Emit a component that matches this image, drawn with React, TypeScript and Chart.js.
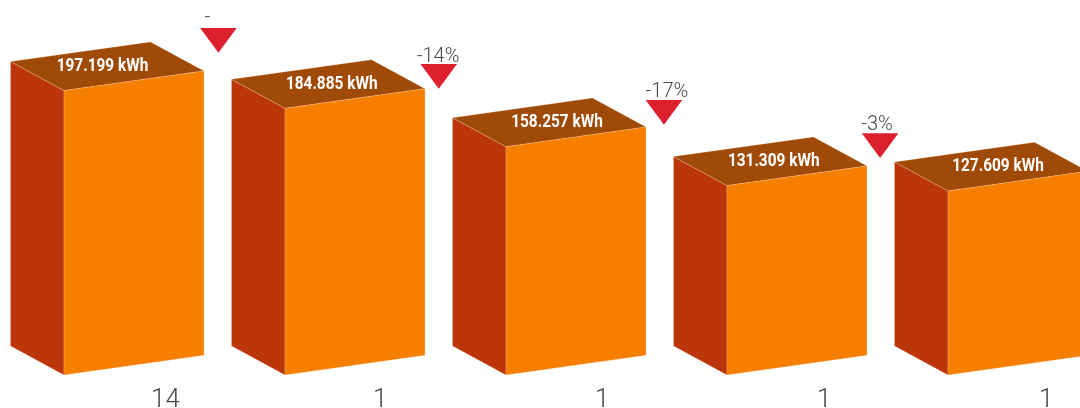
import React, { useEffect, useRef } from "react";
import { Chart, registerables } from "chart.js";

Chart.register(...registerables);

// --- data ---
const categories = ["14", "1", "1", "1", "1"];
const energyKwh = [197199, 184885, 158257, 131309, 127609];
const deltaLabels = ["-", "-14%", "-17%", "-3%"];
const deltaMarkerX = [0.382, 1.379, 2.398, 3.376];
const deltaMarkerY = [240583, 215627, 190667, 167576];

// --- style ---
const FRONT = "#F77F00";
const SIDE = "#BC360C";
const TOP = "#A04A08";
const MARKER = "#DD202E";
const DEPTH_X = 53.5;
const DEPTH_Y = 29;
const SKEW_Y = 19.7;
const TICK_STEP = 222 / 221;
const valueLabelNudge = [-31.5, -23.3, -19, -23.3, -20];
const deltaTextNudge = [
  [-11, -10],
  [-0.7, -6.5],
  [3, -8],
  [-3, -8],
];

function fmt(v: number) {
  return String(v).replace(/(\d{3})$/, ".$1") + " kWh";
}

function poly(ctx: CanvasRenderingContext2D, pts: number[][], fill: string, edge: string) {
  ctx.beginPath();
  pts.forEach((p, i) => (i ? ctx.lineTo(p[0], p[1]) : ctx.moveTo(p[0], p[1])));
  ctx.closePath();
  ctx.fillStyle = fill;
  ctx.fill();
  ctx.strokeStyle = edge;
  ctx.lineWidth = 0.6;
  ctx.stroke();
}

const prismPlugin = {
  id: "prism",
  afterDatasetsDraw(chart: any) {
    const ctx: CanvasRenderingContext2D = chart.ctx;
    ctx.save();
    const bars = chart.getDatasetMeta(0).data;
    bars.forEach((bar: any, i: number) => {
      const half = bar.width / 2;
      const l = bar.x - half;
      const r = bar.x + half;
      const t = bar.y;
      const b = bar.base;
      const edge = "rgba(255,225,195,0.4)";
      poly(ctx, [[l, t], [l, b], [l - DEPTH_X, b - DEPTH_Y], [l - DEPTH_X, t - DEPTH_Y]], SIDE, edge);
      poly(ctx, [[l, t], [r, t - SKEW_Y], [r - DEPTH_X, t - SKEW_Y - DEPTH_Y], [l - DEPTH_X, t - DEPTH_Y]], TOP, edge);
      poly(ctx, [[l, b], [r, b - SKEW_Y], [r, t - SKEW_Y], [l, t]], FRONT, edge);
      // value label on the top face
      ctx.save();
      ctx.font = "700 17.5px Roboto";
      ctx.fillStyle = "#FFFFFF";
      ctx.textAlign = "center";
      ctx.textBaseline = "middle";
      ctx.translate(bar.x + valueLabelNudge[i], t - 24);
      ctx.scale(0.88, 1);
      ctx.fillText(fmt(energyKwh[i]), 0, 0);
      ctx.restore();
    });
    const marks = chart.getDatasetMeta(1).data;
    marks.forEach((m: any, i: number) => {
      ctx.beginPath();
      ctx.moveTo(m.x - 18.3, m.y);
      ctx.lineTo(m.x + 18.3, m.y);
      ctx.lineTo(m.x, m.y + 24.7);
      ctx.closePath();
      ctx.fillStyle = MARKER;
      ctx.fill();
      ctx.font = "300 20px Roboto";
      ctx.fillStyle = "#484848";
      ctx.textAlign = "center";
      ctx.textBaseline = "middle";
      ctx.fillText(deltaLabels[i], m.x + deltaTextNudge[i][0], m.y + deltaTextNudge[i][1]);
    });
    ctx.restore();
  },
};

export default function App() {
  const ref = useRef<HTMLCanvasElement>(null);
  useEffect(() => {
    const chart = new Chart(ref.current!, {
      type: "bar",
      data: {
        datasets: [
          {
            type: "bar",
            label: "kWh",
            data: energyKwh.map((y, x) => ({ x, y })),
            backgroundColor: "rgba(0,0,0,0)",
            borderWidth: 0,
            barThickness: 140,
          },
          {
            type: "scatter",
            label: "Change",
            data: deltaMarkerX.map((x, i) => ({ x, y: deltaMarkerY[i] })),
            pointRadius: 0,
          },
        ],
      } as any,
      options: {
        animation: false,
        responsive: false,
        devicePixelRatio: 1,
        layout: { padding: 0 },
        plugins: { legend: { display: false }, tooltip: { enabled: false } },
        scales: {
          x: {
            type: "linear",
            offset: false,
            min: -134 / 221,
            max: 946 / 221,
            grid: { display: false, drawTicks: false, offset: false },
            border: { display: false },
            afterBuildTicks: (s: any) => {
              s.ticks = categories.map((_, i) => ({ value: i * TICK_STEP }));
            },
            afterFit: (s: any) => {
              s.height = 33;
              s.paddingLeft = 0;
              s.paddingRight = 0;
            },
            ticks: {
              autoSkip: false,
              maxRotation: 0,
              minRotation: 0,
              align: "start",
              labelOffset: 17,
              padding: 10,
              color: "#484848",
              font: { family: "Roboto", size: 26, weight: "300" },
              callback: (_v: number, i: number) => categories[i],
            },
          },
          y: { type: "linear", display: false, min: 0, max: 260000 },
        },
      } as any,
      plugins: [prismPlugin],
    });
    return () => chart.destroy();
  }, []);
  return (
    <div style={{ position: "fixed", left: 0, top: 0, width: 1080, height: 408, overflow: "hidden", background: "#fff" }}>
      <canvas ref={ref} width={1080} height={408} style={{ display: "block" }} />
    </div>
  );
}
